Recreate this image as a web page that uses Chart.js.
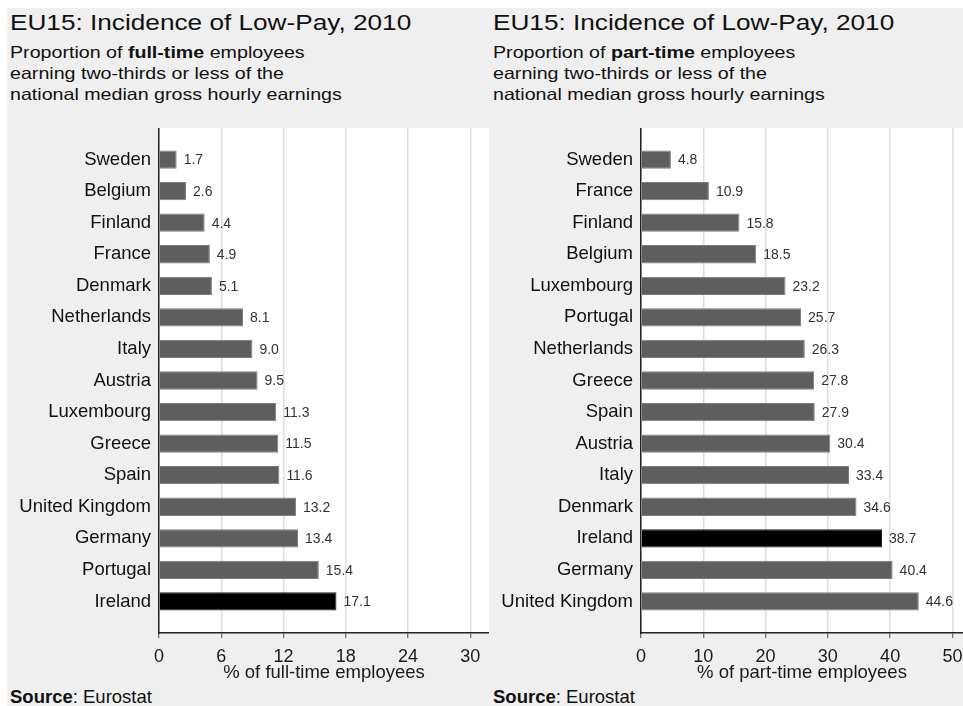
<!DOCTYPE html>
<html><head><meta charset="utf-8">
<script src="https://cdn.jsdelivr.net/npm/chart.js@4"></script>
<style>
html,body{margin:0;padding:0;background:#fff;width:963px;height:706px;overflow:hidden;font-family:"Liberation Sans",Arial,sans-serif;}
#bg{position:absolute;left:7px;top:8px;width:956px;height:698px;background:#efefef;}
.t{position:absolute;white-space:nowrap;transform-origin:0 0;color:#111;}
.title{font-size:22px;line-height:22px;transform:scaleX(1.19);}
.sub{font-size:16.5px;line-height:21px;transform:scaleX(1.19);}
.src{font-size:18.5px;line-height:20px;}
canvas{position:absolute;}
</style></head><body>
<div id="bg"></div>
<div class="t title" style="left:10px;top:12px">EU15: Incidence of Low-Pay, 2010</div>
<div class="t sub" style="left:10px;top:42px">Proportion of <b>full-time</b> employees<br>earning two-thirds or less of the<br>national median gross hourly earnings</div>
<div class="t title" style="left:493px;top:12px">EU15: Incidence of Low-Pay, 2010</div>
<div class="t sub" style="left:493px;top:42px">Proportion of <b>part-time</b> employees<br>earning two-thirds or less of the<br>national median gross hourly earnings</div>
<canvas id="c1" width="482" height="556" style="left:7px;top:128px;width:482px;height:556px"></canvas>
<canvas id="c2" width="474" height="556" style="left:489px;top:128px;width:474px;height:556px"></canvas>
<div class="t src" style="left:10px;top:687px"><b>Source</b>: Eurostat</div>
<div class="t src" style="left:493px;top:687px"><b>Source</b>: Eurostat</div>
<script>
const fullCountries = ["Sweden","Belgium","Finland","France","Denmark","Netherlands","Italy","Austria","Luxembourg","Greece","Spain","United Kingdom","Germany","Portugal","Ireland"];
const fullValues = [1.7,2.6,4.4,4.9,5.1,8.1,9.0,9.5,11.3,11.5,11.6,13.2,13.4,15.4,17.1];
const fullTicks = [0,6,12,18,24,30];
const partCountries = ["Sweden","France","Finland","Belgium","Luxembourg","Portugal","Netherlands","Greece","Spain","Austria","Italy","Denmark","Ireland","Germany","United Kingdom"];
const partValues = [4.8,10.9,15.8,18.5,23.2,25.7,26.3,27.8,27.9,30.4,33.4,34.6,38.7,40.4,44.6];
const partTicks = [0,10,20,30,40,50];
const highlight = "Ireland";

const FONT = '"Liberation Sans", Arial, sans-serif';

const plotBg = {
  id: 'plotBg',
  beforeDraw(chart) {
    const {ctx, chartArea: a} = chart;
    ctx.save(); ctx.fillStyle = '#ffffff';
    ctx.fillRect(a.left, a.top, a.right - a.left, a.bottom - a.top);
    ctx.restore();
  }
};
const valueLabels = {
  id: 'valueLabels',
  afterDatasetsDraw(chart) {
    const {ctx} = chart;
    const meta = chart.getDatasetMeta(0);
    const data = chart.data.datasets[0].data;
    ctx.save();
    ctx.font = '14px ' + FONT;
    ctx.fillStyle = '#333';
    ctx.textAlign = 'left'; ctx.textBaseline = 'middle';
    meta.data.forEach((el, i) => {
      const v = data[i];
      if (v === null || v === undefined) return;
      ctx.fillText(v.toFixed(1), el.x + 7, el.y + 1);
    });
    ctx.restore();
  }
};

function makeChart(id, countries, values, ticks, xmax, axisTitle) {
  const labels = [''].concat(countries, ['']);
  const data = [null].concat(values, [null]);
  const colors = labels.map(c => c === highlight ? '#000000' : '#5e5e5e');
  const borders = labels.map(c => c === highlight ? '#222222' : '#7c7c7c');
  return new Chart(document.getElementById(id), {
    type: 'bar',
    data: { labels, datasets: [{ data, backgroundColor: colors, borderColor: borders, borderWidth: 1, barPercentage: 0.58, categoryPercentage: 1 }] },
    plugins: [plotBg, valueLabels],
    options: {
      indexAxis: 'y', responsive: false, animation: false, devicePixelRatio: 1,
      layout: { padding: 0 },
      plugins: { legend: { display: false }, tooltip: { enabled: false } },
      scales: {
        y: {
          type: 'category', offset: false,
          grid: { display: false, drawTicks: false },
          border: { display: true, color: '#222', width: 1.5 },
          ticks: { padding: 8, color: '#111', font: { family: FONT, size: 18.5 } },
          afterFit(s) { s.width = 152; s.paddingTop = 0; s.paddingBottom = 0; }
        },
        x: {
          type: 'linear', min: 0, max: xmax,
          afterBuildTicks(s) { s.ticks = ticks.map(v => ({ value: v })); },
          grid: { color: '#dedede', lineWidth: 1.5, tickColor: '#444', tickLength: 5, tickWidth: 1 },
          border: { display: true, color: '#222', width: 1.5 },
          ticks: { padding: 8, color: '#1a1a1a', font: { family: FONT, size: 18 }, maxRotation: 0 },
          title: { display: true, text: axisTitle, color: '#1a1a1a', font: { family: FONT, size: 18.5, lineHeight: 1.2 }, padding: 0 },
          afterFit(s) { s.height = 51; s.paddingLeft = 0; s.paddingRight = 0; }
        }
      }
    }
  });
}
makeChart('c1', fullCountries, fullValues, fullTicks, 31.8, '% of full-time employees');
makeChart('c2', partCountries, partValues, partTicks, 51.7, '% of part-time employees');
</script>
</body></html>
